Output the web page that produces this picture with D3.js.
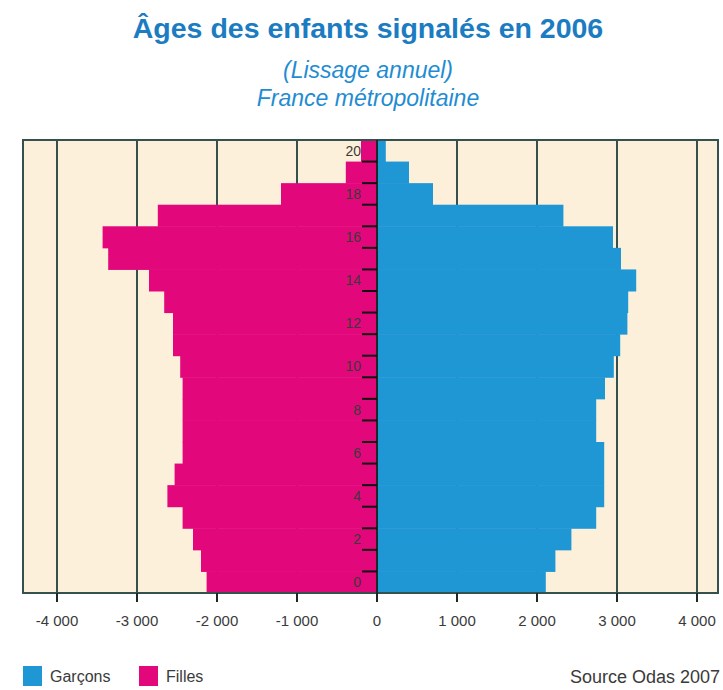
<!DOCTYPE html>
<html>
<head>
<meta charset="utf-8">
<script src="https://cdn.jsdelivr.net/npm/d3@7"></script>
<style>
  body { margin: 0; background: #fff; }
  svg { display: block; }
</style>
</head>
<body>
<div class="chart"></div>
<script>
// ages des enfants signales, 2006 (lissage annuel)

var width = 723,
    height = 690;

var ages = d3.range(0, 21);
// one value per age, 0 -> 20
var garcons = [2110, 2230, 2430, 2740, 2840, 2840, 2840, 2740, 2740, 2850,
               2960, 3040, 3130, 3140, 3240, 3050, 2950, 2330, 700, 400, 110];
var filles  = [2130, 2200, 2300, 2430, 2620, 2530, 2430, 2430, 2430, 2430,
               2460, 2550, 2550, 2660, 2850, 3360, 3430, 2740, 1200, 390, 200];
var xTicks = [-4000, -3000, -2000, -1000, 0, 1000, 2000, 3000, 4000];
var ageLabels = [0, 2, 4, 6, 8, 10, 12, 14, 16, 18, 20];

var blue = '#1f97d5',
    pink = '#e2087b',
    cream = '#fdf0da',
    gridCol = '#34504f';

var plot = { left: 23, right: 718, top: 140, bottom: 593 };

var svg = d3.select('.chart').append('svg')
    .attr('width', width)
    .attr('height', height);

var x = d3.scaleLinear()
    .domain([-4000, 4000])
    .range([57, 697]);

var y = d3.scaleBand()
    .domain(ages.slice().reverse())
    .range([plot.top, plot.bottom])
    .padding(0);

// titles
svg.append('text')
    .attr('x', 368)
    .attr('y', 38)
    .attr('text-anchor', 'middle')
    .attr('font-family', 'Liberation Sans, Arial, sans-serif')
    .attr('font-weight', 'bold')
    .attr('font-size', 28.5)
    .attr('fill', '#1b7cc2')
    .text('Âges des enfants signalés en 2006');

svg.append('text')
    .attr('x', 368)
    .attr('y', 78)
    .attr('text-anchor', 'middle')
    .attr('font-family', 'Liberation Sans, Arial, sans-serif')
    .attr('font-style', 'italic')
    .attr('font-size', 23)
    .attr('fill', '#1f8cd2')
    .text('(Lissage annuel)');

svg.append('text')
    .attr('x', 368)
    .attr('y', 106)
    .attr('text-anchor', 'middle')
    .attr('font-family', 'Liberation Sans, Arial, sans-serif')
    .attr('font-style', 'italic')
    .attr('font-size', 23)
    .attr('fill', '#1f8cd2')
    .text('France métropolitaine');

// plot background
svg.append('rect')
    .attr('x', plot.left)
    .attr('y', plot.top)
    .attr('width', plot.right - plot.left)
    .attr('height', plot.bottom - plot.top)
    .attr('fill', cream);

// vertical grid
svg.append('g')
  .selectAll('line')
  .data(xTicks.filter(function(d) { return d !== 0; }))
  .enter().append('line')
    .attr('x1', function(d) { return x(d); })
    .attr('x2', function(d) { return x(d); })
    .attr('y1', plot.top)
    .attr('y2', plot.bottom)
    .attr('stroke', gridCol)
    .attr('stroke-width', 2);

// bars
svg.append('g')
  .selectAll('rect')
  .data(filles)
  .enter().append('rect')
    .attr('x', function(d) { return x(-d); })
    .attr('y', function(d, i) { return y(ages[i]); })
    .attr('width', function(d) { return x(0) - x(-d); })
    .attr('height', y.bandwidth() + 0.5)
    .attr('fill', pink);

svg.append('g')
  .selectAll('rect')
  .data(garcons)
  .enter().append('rect')
    .attr('x', x(0))
    .attr('y', function(d, i) { return y(ages[i]); })
    .attr('width', function(d) { return x(d) - x(0); })
    .attr('height', y.bandwidth() + 0.5)
    .attr('fill', blue);

// border
svg.append('rect')
    .attr('x', plot.left)
    .attr('y', plot.top)
    .attr('width', plot.right - plot.left)
    .attr('height', plot.bottom - plot.top)
    .attr('fill', 'none')
    .attr('stroke', gridCol)
    .attr('stroke-width', 2);

// zero axis with age ticks
svg.append('line')
    .attr('x1', x(0))
    .attr('x2', x(0))
    .attr('y1', plot.top)
    .attr('y2', plot.bottom + 8)
    .attr('stroke', '#1a2a2a')
    .attr('stroke-width', 2);

svg.append('g')
  .selectAll('line')
  .data(ages.slice(0, 20))
  .enter().append('line')
    .attr('x1', x(0) - 15)
    .attr('x2', x(0))
    .attr('y1', function(d) { return y(d); })
    .attr('y2', function(d) { return y(d); })
    .attr('stroke', '#111')
    .attr('stroke-width', 2);

svg.append('g')
  .selectAll('text')
  .data(ageLabels)
  .enter().append('text')
    .attr('x', x(0) - 16)
    .attr('y', function(d) { return y(d) + y.bandwidth() / 2; })
    .attr('dy', '0.35em')
    .attr('text-anchor', 'end')
    .attr('font-family', 'Liberation Sans Narrow, Liberation Sans, sans-serif')
    .attr('font-size', 14)
    .attr('fill', '#3a3a3a')
    .text(function(d) { return d; });

// x ticks below the frame
var fmt = function(d) {
  var s = d3.format(',')(Math.abs(d)).replace(',', ' ');
  return d < 0 ? '-' + s : s;
};

svg.append('g')
  .selectAll('line')
  .data(xTicks)
  .enter().append('line')
    .attr('x1', function(d) { return x(d); })
    .attr('x2', function(d) { return x(d); })
    .attr('y1', plot.bottom)
    .attr('y2', plot.bottom + 9)
    .attr('stroke', '#1a2a2a')
    .attr('stroke-width', 2);

svg.append('g')
  .selectAll('text')
  .data(xTicks)
  .enter().append('text')
    .attr('x', function(d) { return x(d); })
    .attr('y', 626)
    .attr('text-anchor', 'middle')
    .attr('font-family', 'Liberation Sans Narrow, Liberation Sans, sans-serif')
    .attr('font-size', 15)
    .attr('fill', '#3a3a3a')
    .text(fmt);

// legend
var legend = [
  { name: 'Garçons', color: blue, x: 23 },
  { name: 'Filles', color: pink, x: 139 }
];

var lg = svg.append('g')
  .selectAll('g')
  .data(legend)
  .enter().append('g')
    .attr('transform', function(d) { return 'translate(' + d.x + ',666)'; });

lg.append('rect')
    .attr('width', 19)
    .attr('height', 20)
    .attr('fill', function(d) { return d.color; });

lg.append('text')
    .attr('x', 27)
    .attr('y', 16)
    .attr('font-family', 'Liberation Sans Narrow, Liberation Sans, sans-serif')
    .attr('font-size', 16)
    .attr('fill', '#3a3a3a')
    .text(function(d) { return d.name; });

svg.append('text')
    .attr('x', 720)
    .attr('y', 683)
    .attr('text-anchor', 'end')
    .attr('font-family', 'Liberation Sans Narrow, Liberation Sans, sans-serif')
    .attr('font-size', 18)
    .attr('fill', '#3a3a3a')
    .text('Source Odas 2007');
</script>
</body>
</html>
